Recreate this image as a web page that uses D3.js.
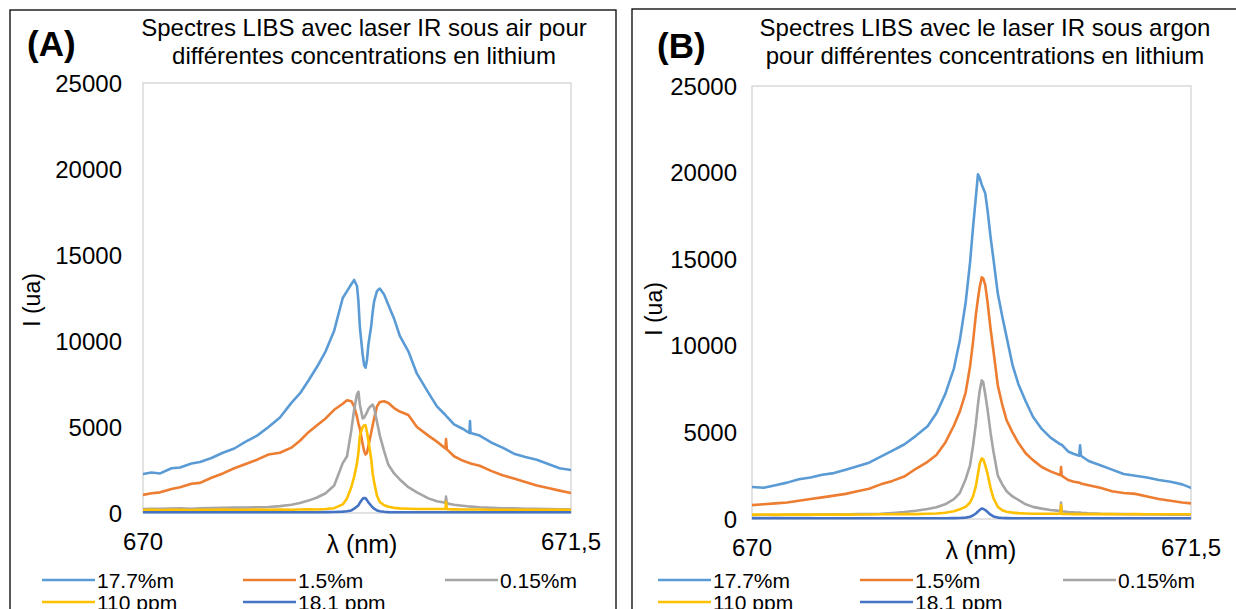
<!DOCTYPE html>
<html><head><meta charset="utf-8">
<script src="https://cdn.jsdelivr.net/npm/d3@7"></script>
<style>body{margin:0;background:#fff}svg{display:block;font-family:"Liberation Sans",Arial,sans-serif}</style>
</head><body><svg id="c" width="1236" height="609"></svg>
<script>
// ---------- DATA ----------
const seriesNames = ["17.7%m", "1.5%m", "0.15%m", "110 ppm", "18.1 ppm"];
const seriesColors = ["#5B9BD5", "#ED7D31", "#A5A5A5", "#FFC000", "#4472C4"];
const xTicks = [670, 671.5];
const xTickLabels = ["670", "671,5"];
const yTicks = [0, 5000, 10000, 15000, 20000, 25000];

// Panel A : air
const wlA = [670.00,670.03,670.06,670.10,670.13,670.17,670.20,670.24,670.28,670.32,670.36,670.40,670.44,670.48,670.52,670.55,670.58,670.61,670.64,670.67,670.70,670.715,670.73,670.74,670.75,670.755,670.76,670.77,670.775,670.78,670.785,670.79,670.80,670.805,670.81,670.82,670.83,670.845,670.86,670.88,670.90,670.93,670.96,671.00,671.03,671.06,671.062,671.065,671.09,671.12,671.144,671.146,671.148,671.18,671.22,671.26,671.30,671.34,671.38,671.42,671.46,671.50];
const a177 = [2270,2350,2300,2600,2650,2880,2970,3200,3500,3750,4150,4500,5000,5550,6400,6950,7700,8500,9400,10600,12500,12900,13300,13550,13200,12300,10800,9200,8600,8450,8900,9800,10900,11700,12300,12900,13050,12700,12100,11300,10300,9400,8100,7000,6200,5700,5650,5600,5150,4900,4650,5350,4650,4500,4100,3800,3450,3250,3100,2850,2600,2500];
const a15 = [1050,1150,1200,1400,1500,1700,1750,2050,2300,2600,2850,3100,3400,3500,3800,4200,4700,5100,5500,6000,6350,6550,6500,6200,5600,5200,4900,4000,3600,3400,3500,3900,4700,5100,5500,6200,6450,6500,6400,6100,5900,5700,5000,4500,4150,3750,4300,3700,3300,3050,2900,2900,2880,2750,2450,2200,2000,1800,1600,1450,1300,1160];
const a015 = [230,250,240,260,270,250,280,290,300,310,320,330,350,400,480,580,720,900,1150,1600,2900,3300,4800,6000,6900,7050,6300,5500,5550,5700,5850,6050,6250,6300,6100,5300,4500,3600,2800,2300,1950,1500,1200,850,680,600,950,560,480,420,380,380,370,330,300,280,270,250,240,230,220,210];
const a110 = [170,180,170,190,180,170,190,180,200,190,180,200,190,200,190,200,210,200,230,280,500,850,1500,2100,2900,3500,4500,5000,5100,5100,4700,4200,3100,2300,1800,1000,640,450,360,300,270,250,230,230,230,230,650,220,210,200,200,200,200,200,190,190,190,180,190,180,180,180];
const a181 = [40,40,40,40,40,40,40,40,40,40,40,40,40,40,40,40,40,40,50,60,80,100,150,250,380,450,600,830,870,850,750,620,420,330,250,150,100,70,50,40,40,40,40,40,40,40,40,40,40,40,40,40,40,40,40,40,40,40,40,40,40,40];

// Panel B : argon
const wlB = [670.00,670.04,670.08,670.12,670.16,670.20,670.24,670.28,670.32,670.36,670.40,670.44,670.48,670.52,670.56,670.60,670.63,670.66,670.69,670.71,670.73,670.745,670.755,670.765,670.772,670.778,670.785,670.79,670.797,670.805,670.815,670.825,670.84,670.855,670.87,670.89,670.91,670.935,670.96,670.99,671.02,671.05,671.054,671.056,671.058,671.08,671.10,671.118,671.121,671.124,671.15,671.19,671.23,671.27,671.31,671.35,671.39,671.43,671.47,671.50];
const b177 = [1850,1800,1950,2100,2300,2400,2550,2650,2850,3050,3250,3600,3950,4300,4800,5350,6100,7200,8700,10300,12500,14800,16800,18600,19900,19700,19300,19100,18800,17800,16300,15000,13000,11700,10500,8900,7800,6800,5900,5200,4700,4350,4300,4300,4300,3900,3750,3650,4250,3650,3350,3100,2850,2600,2500,2400,2250,2150,2000,1800];
const b15 = [800,850,900,950,1050,1150,1250,1350,1450,1600,1750,2000,2200,2450,2900,3300,3700,4400,5400,6200,7300,8800,10200,11800,12700,13400,13950,13900,13500,12500,11000,9700,7700,6600,5700,5000,4400,3800,3400,3000,2750,2550,2550,3000,2500,2250,2150,2100,2080,2050,1950,1800,1600,1500,1450,1300,1150,1050,950,900];
const b015 = [220,230,220,240,250,240,260,270,260,280,290,300,350,400,480,580,680,850,1150,1500,2300,3100,4200,5500,6600,7400,8000,7900,7200,6300,5000,3900,2500,2000,1600,1300,1100,850,700,600,520,470,470,950,450,400,380,370,370,360,330,300,290,280,270,260,260,250,250,250];
const b110 = [250,260,250,260,250,260,250,260,250,260,260,270,270,280,280,300,320,360,450,560,700,950,1300,1900,2600,3200,3500,3450,3100,2600,1800,1200,700,500,420,370,340,320,300,300,300,300,300,800,290,290,280,280,280,280,280,280,280,270,280,270,270,270,270,270];
const b181 = [40,40,40,40,40,40,40,40,40,40,40,40,40,40,40,40,40,40,50,60,80,130,200,320,430,530,600,590,520,400,250,150,80,60,50,40,40,40,40,40,40,40,40,40,40,40,40,40,40,40,40,40,40,40,40,40,40,40,40,40];

const panels = [
  {tag:"(A)", title:["Spectres LIBS avec laser IR sous air pour","différentes concentrations en lithium"], wl:wlA, series:[a177,a15,a015,a110,a181],
   box:[10,10,606,640], plot:[143,83,571,513], tagPos:[27,56], titleX:364, yLabX:122, yTitleX:40, yTitleY:300, xTitleX:362, legX:[42,243,445]},
  {tag:"(B)", title:["Spectres LIBS avec le laser IR sous argon","pour différentes concentrations en lithium"], wl:wlB, series:[b177,b15,b015,b110,b181],
   box:[632,9,640,640], plot:[752,86,1191,519], tagPos:[657,58], titleX:985, yLabX:737, yTitleX:662, yTitleY:309, xTitleX:981, legX:[658,860,1063]}
];

const svg = d3.select("#c");
panels.forEach((p,pi)=>{
  const g = svg.append("g");
  g.append("rect").attr("x",p.box[0]).attr("y",p.box[1]).attr("width",p.box[2]).attr("height",p.box[3])
    .attr("fill","none").attr("stroke","#000").attr("stroke-width",1.3);
  const [L,T,R,B] = p.plot;
  const x = d3.scaleLinear().domain([670,671.5]).range([L,R]);
  const y = d3.scaleLinear().domain([0,25000]).range([B,T]);
  g.append("rect").attr("x",L).attr("y",T).attr("width",R-L).attr("height",B-T)
    .attr("fill","none").attr("stroke","#d9d9d9").attr("stroke-width",1.5);
  // y ticks
  g.selectAll(".yt").data(yTicks).enter().append("text")
    .attr("x",p.yLabX).attr("y",d=>y(d)+8.5).attr("text-anchor","end")
    .attr("font-size",24).text(d=>d);
  // x ticks
  g.selectAll(".xt").data(xTicks).enter().append("text")
    .attr("x",d=>x(d)).attr("y",B+37).attr("text-anchor","middle")
    .attr("font-size",24).text((d,i)=>xTickLabels[i]);
  g.append("text").attr("x",p.xTitleX).attr("y",B+40).attr("text-anchor","middle").attr("font-size",25).text("λ (nm)");
  g.append("text").attr("transform",`translate(${p.yTitleX},${p.yTitleY}) rotate(-90)`).attr("text-anchor","middle").attr("font-size",23).text("I (ua)");
  // titles
  p.title.forEach((t,i)=>g.append("text").attr("x",p.titleX).attr("y",36+i*28).attr("text-anchor","middle").attr("font-size",24).text(t));
  g.append("text").attr("x",p.tagPos[0]).attr("y",p.tagPos[1]).attr("font-size",35).attr("font-weight","bold").text(p.tag);
  // clip
  const cid = "clip"+pi;
  svg.append("clipPath").attr("id",cid).append("rect").attr("x",L).attr("y",T-2).attr("width",R-L).attr("height",B-T+4);
  const line = d3.line().x((d,i)=>x(p.wl[i])).y(d=>y(d));
  const lg = g.append("g").attr("clip-path",`url(#${cid})`);
  p.series.forEach((s,si)=>{
    lg.append("path").attr("d",line(s)).attr("fill","none").attr("stroke",seriesColors[si])
      .attr("stroke-width",2.6).attr("stroke-linejoin","round").attr("stroke-linecap","round");
  });
  // legend
  seriesNames.forEach((n,si)=>{
    const col = si%3, row = Math.floor(si/3);
    const lx = p.legX[col], ly = 580 + row*22;
    g.append("line").attr("x1",lx).attr("x2",lx+53).attr("y1",ly).attr("y2",ly).attr("stroke",seriesColors[si]).attr("stroke-width",2.6);
    g.append("text").attr("x",lx+55).attr("y",ly+7.5).attr("font-size",21).text(n);
  });
});
</script></body></html>
